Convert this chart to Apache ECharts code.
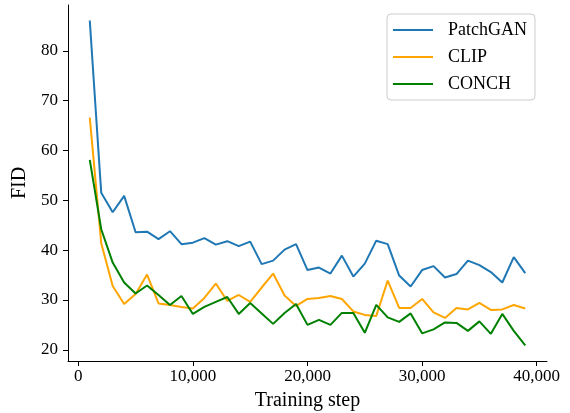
<!DOCTYPE html>
<html>
<head>
<meta charset="utf-8">
<script src="https://cdn.jsdelivr.net/npm/echarts@6/dist/echarts.min.js"></script>
<style>
html,body{margin:0;padding:0;background:#fff;}
#chart{width:570px;height:413px;}
</style>
</head>
<body>
<div id="chart"></div>
<script>
const steps = [1000,2000,3000,4000,5000,6000,7000,8000,9000,10000,11000,12000,13000,14000,15000,16000,17000,18000,19000,20000,21000,22000,23000,24000,25000,26000,27000,28000,29000,30000,31000,32000,33000,34000,35000,36000,37000,38000,39000];
const patchgan = [86.1,51.5,47.6,50.9,43.6,43.7,42.2,43.8,41.2,41.5,42.4,41.1,41.8,40.8,41.7,37.2,37.9,40.1,41.2,36.0,36.5,35.3,38.9,34.7,37.3,41.9,41.2,34.9,32.7,36.0,36.8,34.5,35.2,37.9,37.0,35.6,33.5,38.6,35.4];
const clip = [66.6,41.4,32.8,29.2,31.2,35.1,29.3,29.0,28.6,28.3,30.4,33.3,29.8,31.0,29.6,32.5,35.3,30.9,28.8,30.2,30.4,30.8,30.2,27.7,27.0,26.8,33.9,28.4,28.4,30.2,27.5,26.4,28.4,28.1,29.4,28.0,28.1,29.0,28.3];
const conch = [58.1,44.2,37.5,33.5,31.3,32.9,31.0,29.0,30.8,27.2,28.6,29.6,30.6,27.2,29.4,27.3,25.2,27.4,29.2,25.0,26.0,25.0,27.4,27.4,23.4,29.0,26.5,25.6,27.3,23.3,24.1,25.5,25.4,23.8,25.7,23.2,27.2,23.8,20.9];
const seriesNames = ['PatchGAN','CLIP','CONCH'];
const xTicks = [0,10000,20000,30000,40000];
const yTicks = [20,30,40,50,60,70,80];

const font = 'Liberation Serif';
const colors = ['#1f77b4','#ffa500','#008000'];
const allData = [patchgan, clip, conch];

const chart = echarts.init(document.getElementById('chart'), null, {renderer:'canvas'});
chart.setOption({
  animation:false,
  backgroundColor:'#fff',
  grid:{left:68,right:23,top:5,bottom:52,containLabel:false,outerBoundsMode:'none'},
  legend:{
    orient:'vertical',left:387,top:14,
    padding:[7,8,7,6],
    itemWidth:40,itemHeight:2,itemGap:9,icon:'rect',
    borderColor:'#cccccc',borderWidth:1,borderRadius:4,backgroundColor:'rgba(255,255,255,0.8)',
    textStyle:{fontFamily:font,fontSize:18,color:'#000',padding:[0,0,0,10]},
    data:seriesNames
  },
  xAxis:{
    type:'value',min:-900,max:40900,
    name:'Training step',nameLocation:'middle',nameGap:30,
    nameTextStyle:{fontFamily:font,fontSize:20,color:'#000'},
    axisLine:{show:true,onZero:false,lineStyle:{color:'#000',width:1}},
    axisTick:{show:true,length:5,lineStyle:{color:'#000'},customValues:xTicks},
    axisLabel:{fontFamily:font,fontSize:17,color:'#000',margin:7,customValues:xTicks,
      formatter:v=>v.toLocaleString('en-US')},
    splitLine:{show:false}
  },
  yAxis:{
    type:'value',min:17.75,max:89.2,
    name:'FID',nameLocation:'middle',nameGap:23,
    nameTextStyle:{fontFamily:font,fontSize:20,color:'#000'},
    axisLine:{show:true,onZero:false,lineStyle:{color:'#000',width:1}},
    axisTick:{show:true,length:5,lineStyle:{color:'#000'},customValues:yTicks},
    axisLabel:{fontFamily:font,fontSize:17,color:'#000',margin:10,customValues:yTicks},
    splitLine:{show:false}
  },
  series: seriesNames.map((n,i)=>({
    name:n,type:'line',symbol:'none',
    color:colors[i],
    lineStyle:{color:colors[i],width:2},
    data:steps.map((s,j)=>[s,allData[i][j]])
  }))
});
</script>
</body>
</html>
